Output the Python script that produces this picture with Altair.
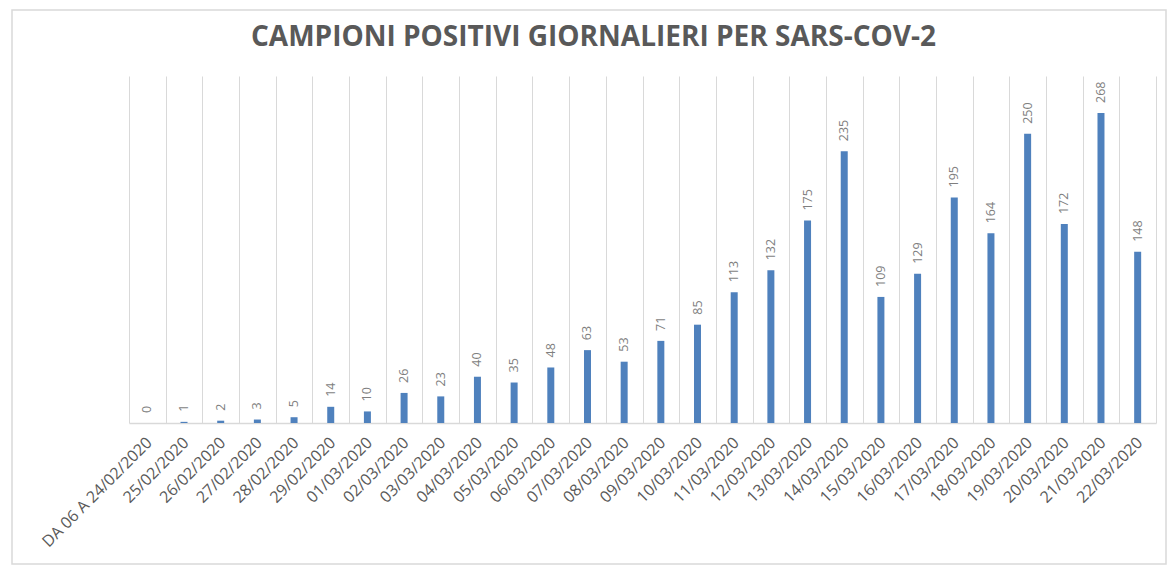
import altair as alt
import pandas as pd

categories = [
    "DA 06 A 24/02/2020", "25/02/2020", "26/02/2020", "27/02/2020", "28/02/2020",
    "29/02/2020", "01/03/2020", "02/03/2020", "03/03/2020", "04/03/2020",
    "05/03/2020", "06/03/2020", "07/03/2020", "08/03/2020", "09/03/2020",
    "10/03/2020", "11/03/2020", "12/03/2020", "13/03/2020", "14/03/2020",
    "15/03/2020", "16/03/2020", "17/03/2020", "18/03/2020", "19/03/2020",
    "20/03/2020", "21/03/2020", "22/03/2020",
]
values = [0, 1, 2, 3, 5, 14, 10, 26, 23, 40, 35, 48, 63, 53, 71, 85, 113, 132,
          175, 235, 109, 129, 195, 164, 250, 172, 268, 148]
title_text = "CAMPIONI POSITIVI GIORNALIERI PER SARS-COV-2"

df = pd.DataFrame({"data": categories, "positivi": values})

FONT = "Open Sans"
W, H = 1027, 347

x_enc = alt.X(
    "data:N", sort=None, title=None,
    scale=alt.Scale(paddingInner=0, paddingOuter=0),
    axis=alt.Axis(
        labelAngle=-45, grid=True, gridColor="#d9d9d9", gridWidth=1,
        tickBand="extent", ticks=False, domainColor="#d9d9d9", domainWidth=1.5,
        labelColor="#595959", labelFontSize=16, labelFont=FONT, labelPadding=11,
        labelOffset=-4,
    ),
)
y_enc = alt.Y("positivi:Q", scale=alt.Scale(domain=[0, 300]), axis=None)

base = alt.Chart(df).encode(x=x_enc, y=y_enc)
bars = base.mark_bar(size=7, color="#4f81bd")
labels = base.mark_text(
    angle=270, align="left", baseline="middle", dx=10,
    color="#7f7f7f", fontSize=12.5, font=FONT,
).encode(text="positivi:Q")

frame = alt.Chart(pd.DataFrame({"f": [0]})).mark_rect(
    fillOpacity=0, stroke="#d9d9d9", strokeWidth=1.5
).encode(
    x=alt.value(-117), x2=alt.value(1037), y=alt.value(-66), y2=alt.value(488)
)

chart = alt.layer(frame, bars, labels).properties(
    width=W, height=H,
    title=alt.TitleParams(
        title_text, anchor="middle", frame="group", fontSize=28, font=FONT,
        fontWeight="bold", color="#595959", dx=-49, dy=93, offset=28,
        baseline="alphabetic",
    ),
    autosize=alt.AutoSizeParams(type="none"),
    padding={"left": 121, "top": 68, "right": 12, "bottom": 143},
).configure_view(stroke=None)

chart.save("out.html", embed_options={"renderer": "svg", "actions": False})
